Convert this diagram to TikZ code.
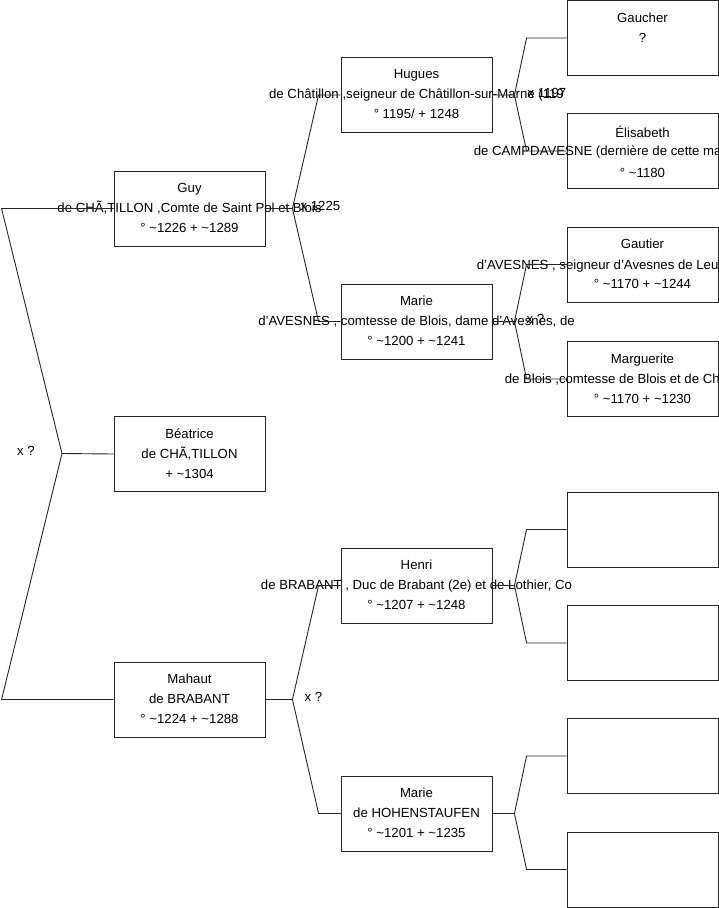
\documentclass[tikz,border=0pt]{standalone}
\usepackage{fontspec}
\setmainfont{Liberation Sans}
\newcommand{\abt}{\textasciitilde}
\begin{document}
\begin{tikzpicture}[x=1pt,y=-1pt,
  person/.style={draw=black!85,line width=0.9pt,minimum width=151pt,minimum height=75pt,inner sep=0pt},
  who/.style={anchor=north,align=center,inner sep=0pt,font=\fontsize{13.2}{20}\selectfont,execute at begin node=\strut},
  side/.style={anchor=base west,inner sep=0pt,font=\fontsize{13.2}{20}\selectfont},
  link/.style={draw=black!85,line width=0.9pt}]
  \useasboundingbox (0,0) rectangle (719,908);
  \clip (0,0) rectangle (719,908);
  % boxes
  \node[person] (guy) at (189.5,208.5) {};
  \node[person] (beatrice) at (189.5,454) {};
  \node[person] (mahaut) at (189.5,699.5) {};
  \node[person] (hugues) at (416.5,95) {};
  \node[person] (marie1) at (416.5,321.5) {};
  \node[person] (henri) at (416.5,585.5) {};
  \node[person] (marie2) at (416.5,813.5) {};
  \foreach \n/\y in {gaucher/38,elisabeth/151,gautier/264.5,marguerite/379,e1/529.5,e2/643,e3/756,e4/869.5}
    \node[person] (\n) at (642.5,\y) {};
  % names
  \node[who] (guy-t) at ([yshift=-12.5]guy.north) {Guy\\\makebox[0pt]{de CHÃ,TILLON ,Comte de Saint Pol et Blois}\\° \abt1226 + \abt1289};
  \node[who] (beatrice-t) at ([yshift=-12.5]beatrice.north) {Béatrice\\de CHÃ,TILLON\\+ \abt1304};
  \node[who] (mahaut-t) at ([yshift=-12.5]mahaut.north) {Mahaut\\de BRABANT\\° \abt1224 + \abt1288};
  \node[who] (hugues-t) at ([yshift=-12.5]hugues.north) {Hugues\\\makebox[0pt]{de Châtillon ,seigneur de Châtillon-sur-Marne (119}\\° 1195/ + 1248};
  \node[who] (marie1-t) at ([yshift=-12.5]marie1.north) {Marie\\\makebox[0pt]{d'AVESNES , comtesse de Blois, dame d'Avesnes, de}\\° \abt1200 + \abt1241};
  \node[who] (henri-t) at ([yshift=-12.5]henri.north) {Henri\\\makebox[0pt]{de BRABANT , Duc de Brabant (2e) et de Lothier, Co}\\° \abt1207 + \abt1248};
  \node[who] (marie2-t) at ([yshift=-12.5]marie2.north) {Marie\\de HOHENSTAUFEN\\° \abt1201 + \abt1235};
  \node[who] (gaucher-t) at ([yshift=-12.5]gaucher.north) {Gaucher\\?};
  \node[who] (elisabeth-t) at ([yshift=-12.5]elisabeth.north) {Élisabeth\\[20pt]° \abt1180};
  \node[who] (gautier-t) at ([yshift=-12.5]gautier.north) {Gautier\\[20pt]° \abt1170 + \abt1244};
  \node[who] (marguerite-t) at ([yshift=-12.5]marguerite.north) {Marguerite\\[20pt]° \abt1170 + \abt1230};
  \node[side] (elisabeth-l) at ([xshift=-93,yshift=-4.5]elisabeth.west) {de CAMPDAVESNE (dernière de cette ma};
  \node[side] (gautier-l) at ([xshift=-90,yshift=-4.5]gautier.west) {d'AVESNES , seigneur d'Avesnes de Leu};
  \node[side] (marguerite-l) at ([xshift=-62,yshift=-4.5]marguerite.west) {de Blois ,comtesse de Blois et de Ch};
  % forks
  \coordinate (f0) at (62,453.5);
  \draw[link] (guy.west) -- ++(-112,0) -- (f0) -- (beatrice.west);
  \draw[link] (mahaut.west) -- ++(-112,0) -- (f0);
  \foreach \c/\a/\b in {guy/hugues/marie1,mahaut/henri/marie2}{
    \coordinate (f-\c) at ([xshift=27]\c.east);
    \draw[link] (\c.east) -- (f-\c) -- ([xshift=-22]\a.west) -- (\a.west);
    \draw[link] (f-\c) -- ([xshift=-22]\b.west) -- (\b.west);
  }
  \foreach \c/\a/\b in {hugues/gaucher/elisabeth,marie1/gautier/marguerite,henri/e1/e2,marie2/e3/e4}{
    \coordinate (f-\c) at ([xshift=22]\c.east);
    \draw[link] (\c.east) -- (f-\c) -- ([xshift=-40]\a.west) -- (\a.west);
    \draw[link] (f-\c) -- ([xshift=-40]\b.west) -- (\b.west);
  }
  % marriages
  \node[side] (x0) at ([xshift=-45,yshift=-2.2]f0) {x ?};
  \node[side] (x1) at ([xshift=8,yshift=-2.2]f-guy) {x 1225};
  \node[side] (x2) at ([xshift=12,yshift=-2.2]f-mahaut) {x ?};
  \node[side] (x3) at ([xshift=13,yshift=-2.2]f-hugues) {x 1197};
  \node[side] (x4) at ([xshift=12,yshift=-2.2]f-marie1) {x ?};
\end{tikzpicture}
\end{document}
